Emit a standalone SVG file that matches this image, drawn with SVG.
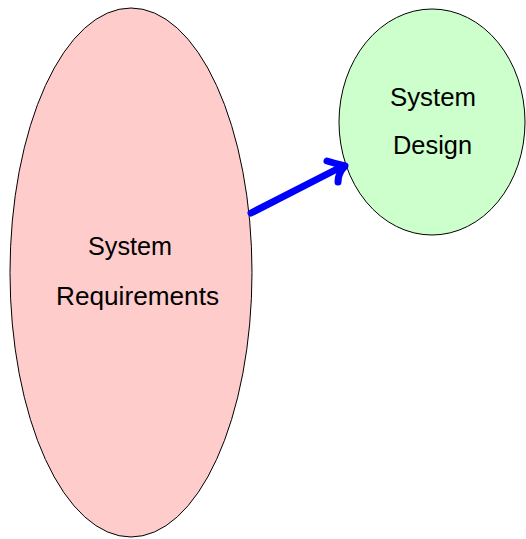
<svg xmlns="http://www.w3.org/2000/svg" width="526" height="539" viewBox="0 0 526 539">
<style>
.n{stroke:#000;stroke-width:1}
.t{font-family:"Liberation Sans",Arial,sans-serif;font-size:26px;fill:#000}
.c{fill:none;stroke:#00f;stroke-width:7;stroke-linecap:round;stroke-linejoin:round}
</style>
<rect width="526" height="539" fill="#fff"/>
<g id="req">
<ellipse class="n" cx="131" cy="272.5" rx="121" ry="264.5" fill="#ffcccc"/>
<text class="t" x="88" y="255" textLength="84" lengthAdjust="spacingAndGlyphs">System</text>
<text class="t" x="56" y="305" textLength="163" lengthAdjust="spacingAndGlyphs">Requirements</text>
</g>
<g id="design">
<ellipse class="n" cx="432" cy="122" rx="93" ry="113" fill="#ccffcc"/>
<text class="t" x="390" y="106" textLength="86" lengthAdjust="spacingAndGlyphs">System</text>
<text class="t" x="393" y="154" textLength="79" lengthAdjust="spacingAndGlyphs">Design</text>
</g>
<g id="connectors">
<path class="c" d="M251,213 L343,166"/>
<path class="c" d="M327,161 Q337,164 345,166 Q338,173 338,182"/>
</g>
</svg>
